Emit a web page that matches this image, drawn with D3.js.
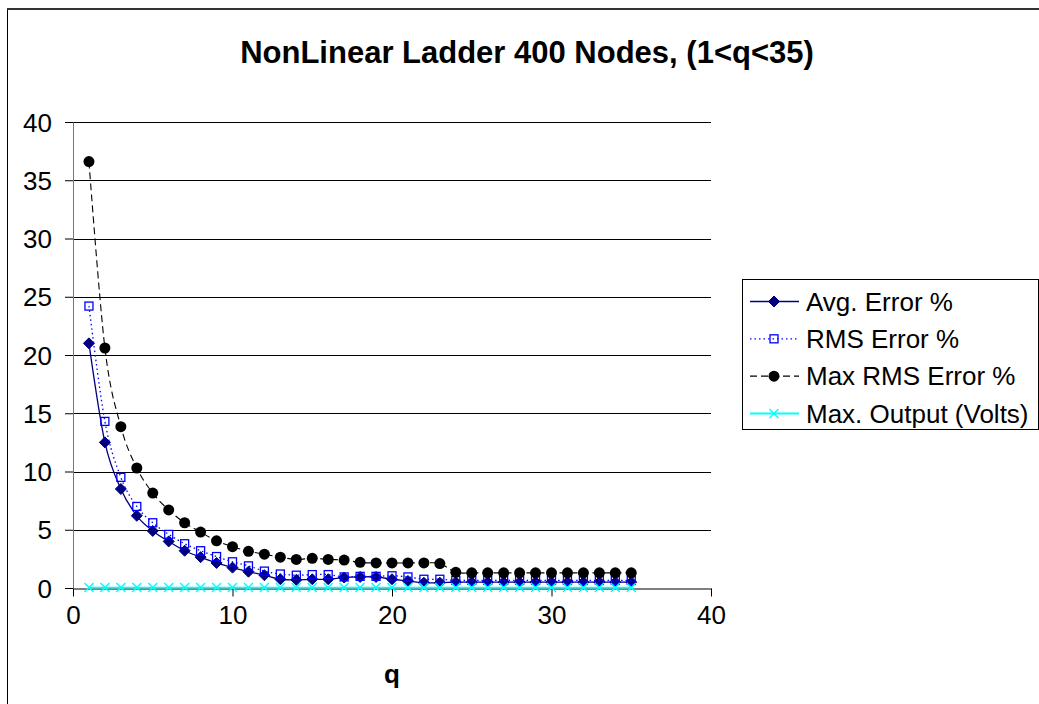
<!DOCTYPE html>
<html>
<head>
<meta charset="utf-8">
<script src="https://cdn.jsdelivr.net/npm/d3@7"></script>
<style>
  html, body { margin: 0; padding: 0; background: #fff; }
  svg { display: block; font-family: "Liberation Sans", Arial, sans-serif; }
</style>
</head>
<body>
<svg id="chart" width="1039" height="704"></svg>
<script>
// Error figures for the nonlinear ladder (400 nodes), swept over q = 1..35
const qValues = d3.range(1, 36);
const avgError = [21.0, 12.5, 8.5, 6.2, 4.9, 4.0, 3.2, 2.65, 2.15, 1.75, 1.4, 1.1, 0.75, 0.7, 0.75,
  0.75, 0.9, 0.95, 0.95, 0.75, 0.6, 0.45, 0.45, 0.5, 0.5, 0.5, 0.5, 0.5, 0.5, 0.5, 0.5, 0.5, 0.5, 0.5, 0.5];
const rmsError = [24.2, 14.3, 9.5, 7.0, 5.6, 4.6, 3.8, 3.2, 2.7, 2.25, 1.9, 1.45, 1.2, 1.1, 1.15,
  1.15, 0.95, 1.0, 1.0, 1.05, 0.95, 0.75, 0.75, 0.65, 0.65, 0.65, 0.65, 0.65, 0.65, 0.65, 0.65, 0.65, 0.65, 0.65, 0.65];
const maxRmsError = [36.6, 20.6, 13.85, 10.3, 8.15, 6.7, 5.6, 4.8, 4.05, 3.55, 3.15, 2.9, 2.65, 2.45, 2.55,
  2.45, 2.4, 2.2, 2.15, 2.15, 2.15, 2.15, 2.1, 1.35, 1.3, 1.3, 1.3, 1.3, 1.3, 1.3, 1.3, 1.3, 1.3, 1.3, 1.3];
const maxOutput = [0.04, 0.04, 0.04, 0.04, 0.04, 0.04, 0.04, 0.04, 0.04, 0.04, 0.04, 0.04, 0.04, 0.04, 0.04,
  0.04, 0.04, 0.04, 0.04, 0.04, 0.04, 0.04, 0.04, 0.04, 0.04, 0.04, 0.04, 0.04, 0.04, 0.04, 0.04, 0.04, 0.04, 0.04, 0.04];

const seriesNames = ["Avg. Error %", "RMS Error %", "Max RMS Error %", "Max. Output (Volts)"];
const xTicks = [0, 10, 20, 30, 40];
const yTicks = [0, 5, 10, 15, 20, 25, 30, 35, 40];
const titleText = "NonLinear Ladder 400 Nodes, (1<q<35)";
const xTitle = "q";

const svg = d3.select("#chart");

// chart frame
svg.append("rect")
  .attr("x", 7.5).attr("y", 9).attr("width", 1100).attr("height", 800)
  .attr("fill", "#fff").attr("stroke", "#000").attr("stroke-width", 1);
svg.append("line")
  .attr("x1", 7).attr("x2", 1039).attr("y1", 9).attr("y2", 9)
  .attr("stroke", "#333").attr("stroke-width", 2);

const x = d3.scaleLinear().domain([0, 40]).range([73, 711]);
const y = d3.scaleLinear().domain([0, 40]).range([588, 122]);

// horizontal gridlines
svg.append("g")
  .selectAll("line")
  .data(yTicks.filter(d => d > 0))
  .join("line")
  .attr("x1", x(0)).attr("x2", x(40))
  .attr("y1", d => Math.round(y(d)) + 0.5).attr("y2", d => Math.round(y(d)) + 0.5)
  .attr("stroke", "#000").attr("stroke-width", 1);

// axes
const yAxis = svg.append("g")
  .attr("transform", `translate(${x(0)},0)`)
  .call(d3.axisLeft(y).tickValues(yTicks).tickSize(8).tickSizeOuter(0).tickPadding(13));
const xAxis = svg.append("g")
  .attr("transform", `translate(0,${Math.round(y(0)) + 0.5})`)
  .call(d3.axisBottom(x).tickValues(xTicks).tickSize(8).tickSizeOuter(0).tickPadding(9));

[yAxis, xAxis].forEach(g => {
  g.select(".domain").attr("stroke", "#000").attr("stroke-width", 1);
  g.selectAll(".tick line").attr("stroke", "#000");
  g.selectAll(".tick text")
    .attr("font-family", "Liberation Sans, Arial, sans-serif")
    .attr("font-size", 26).attr("fill", "#000");
});
yAxis.select(".domain").attr("stroke", "#777");
yAxis.selectAll(".tick text").attr("dy", "0.35em");

// title and axis title
svg.append("text")
  .attr("x", 527).attr("y", 63)
  .attr("text-anchor", "middle")
  .attr("font-size", 31).attr("font-weight", "bold")
  .text(titleText);
svg.append("text")
  .attr("x", x(20)).attr("y", 683)
  .attr("text-anchor", "middle")
  .attr("font-size", 26).attr("font-weight", "bold")
  .text(xTitle);

const curve = d3.curveCatmullRom.alpha(0);
const line = d3.line().x(d => x(d[0])).y(d => y(d[1])).curve(curve);

const series = [
  { name: seriesNames[0], values: avgError, color: "#000080", dash: null, width: 1.3, marker: "diamond" },
  { name: seriesNames[1], values: rmsError, color: "#0000FF", dash: "1.5,3", width: 1.3, marker: "square" },
  { name: seriesNames[2], values: maxRmsError, color: "#000", dash: "7,4", width: 1.1, marker: "circle" },
  { name: seriesNames[3], values: maxOutput, color: "#00FFFF", dash: null, width: 1.8, marker: "cross" }
];

function drawMarker(g, kind, color) {
  if (kind === "diamond") {
    g.append("path").attr("d", "M0,-5.5L5.5,0L0,5.5L-5.5,0Z").attr("fill", color).attr("stroke", color);
  } else if (kind === "square") {
    g.append("rect").attr("x", -4).attr("y", -4).attr("width", 8).attr("height", 8)
      .attr("fill", "none").attr("stroke", color).attr("stroke-width", 1.3);
  } else if (kind === "circle") {
    g.append("circle").attr("r", 5.5).attr("fill", color);
  } else if (kind === "cross") {
    g.append("path").attr("d", "M-4.5,-4.5L4.5,4.5M-4.5,4.5L4.5,-4.5")
      .attr("stroke", color).attr("stroke-width", 1.4).attr("fill", "none");
  }
}

series.forEach(s => {
  const pts = qValues.map((q, i) => [q, s.values[i]]);
  const g = svg.append("g");
  g.append("path")
    .attr("d", line(pts))
    .attr("fill", "none")
    .attr("stroke", s.color)
    .attr("stroke-width", s.width)
    .attr("stroke-dasharray", s.dash);
  g.selectAll("g.m")
    .data(pts)
    .join("g")
    .attr("class", "m")
    .attr("transform", d => `translate(${x(d[0])},${y(d[1])})`)
    .each(function () { drawMarker(d3.select(this), s.marker, s.color); });
});

// legend
const legend = svg.append("g");
legend.append("rect")
  .attr("x", 742.5).attr("y", 279.5).attr("width", 296).attr("height", 150)
  .attr("fill", "#fff").attr("stroke", "#000").attr("stroke-width", 1);
const rowY = d3.scaleLinear().domain([0, 3]).range([301.5, 413.5]);
series.forEach((s, i) => {
  const row = legend.append("g").attr("transform", `translate(0,${rowY(i)})`);
  row.append("line")
    .attr("x1", 750).attr("x2", 799)
    .attr("stroke", s.color).attr("stroke-width", s.width)
    .attr("stroke-dasharray", s.dash);
  const m = row.append("g").attr("transform", "translate(774,0)");
  drawMarker(m, s.marker, s.color);
  row.append("text")
    .attr("x", 806).attr("y", 9)
    .attr("font-size", 26).attr("fill", "#000")
    .text(s.name);
});
</script>
</body>
</html>
